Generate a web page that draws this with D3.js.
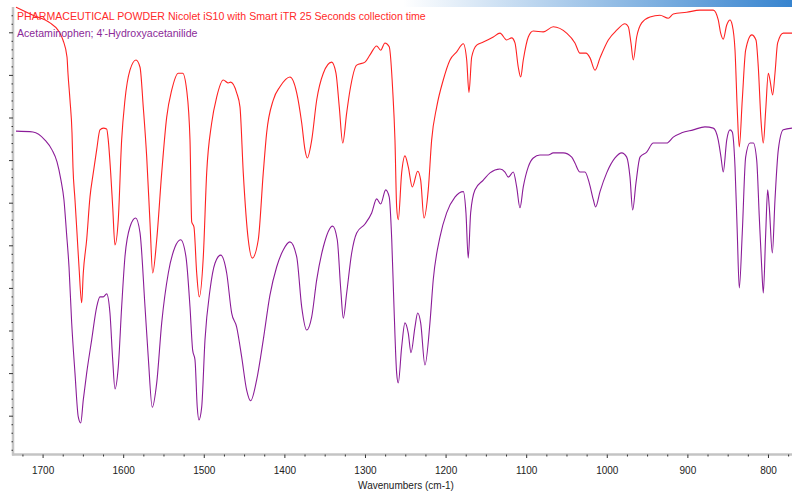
<!DOCTYPE html>
<html><head><meta charset="utf-8">
<script src="https://cdn.jsdelivr.net/npm/d3@7/dist/d3.min.js"></script>
<style>
html,body{margin:0;padding:0;background:#fff;}
svg{display:block;font-family:"Liberation Sans",Arial,sans-serif;}
</style></head>
<body>
<svg id="c" width="792" height="491"></svg>
<script>
// ---- DATA (wavenumber cm-1, relative transmittance) ----
const titleSample = "PHARMACEUTICAL POWDER Nicolet iS10 with Smart iTR 25 Seconds collection time";
const titleRef = "Acetaminophen; 4'-Hydroxyacetanilide";
const xLabel = "Wavenumbers (cm-1)";
const xMajorTicks = [1700,1600,1500,1400,1300,1200,1100,1000,900,800];
const xMinorTicks = [1725,1675,1650,1625,1575,1550,1525,1475,1450,1425,1375,1350,1325,1275,1250,1225,1175,1150,1125,1075,1050,1025,975,950,925,875,850,825,775];
const yMajorTicks = [10,20,30,40,50,60,70,80,90,100];
const yMinorTicks = [2,4,6,8,12,14,16,18,22,24,26,28,32,34,36,38,42,44,46,48,52,54,56,58,62,64,66,68,72,74,76,78,82,84,86,88,92,94,96,98,102,104,106];

const sampleWn = [1733.0,1711.9,1690.8,1680.9,1674.7,1669.7,1668.5,1666.0,1663.5,1662.3,1659.8,1657.3,1654.8,1651.5,1649.5,1645.3,1641.2,1637.1,1632.9,1628.8,1624.7,1620.5,1618.5,1615.5,1613.0,1610.2,1606.1,1601.9,1597.8,1591.6,1584.1,1579.1,1575.1,1570.8,1566.7,1563.4,1558.4,1552.2,1546.0,1539.8,1531.6,1526.2,1521.2,1517.1,1515.0,1512.2,1508.8,1505.6,1500.6,1496.4,1490.2,1484.0,1475.8,1469.6,1466.6,1459.2,1455.1,1451.0,1444.8,1439.8,1432.4,1426.2,1422.0,1413.8,1405.5,1393.1,1384.7,1378.5,1374.4,1371.6,1366.1,1359.9,1351.7,1341.3,1336.0,1331.9,1327.6,1322.7,1318.6,1310.3,1300.0,1293.8,1285.5,1280.5,1275.2,1269.9,1265.6,1262.8,1260.7,1258.7,1254.5,1250.4,1246.3,1241.3,1234.6,1230.9,1226.8,1221.5,1217.3,1211.0,1202.9,1194.5,1186.2,1178.0,1173.8,1171.0,1167.6,1161.4,1153.2,1140.8,1132.5,1124.2,1118.0,1113.9,1109.8,1106.8,1103.6,1097.4,1091.2,1078.8,1066.4,1049.8,1039.5,1033.3,1025.8,1020.8,1014.6,1008.4,998.1,987.7,977.4,973.3,970.0,967.1,962.9,956.7,946.4,934.0,923.7,917.5,900.9,884.4,867.9,861.7,858.7,855.5,851.2,847.1,844.3,840.9,838.1,835.6,831.9,827.7,820.2,814.9,812.0,808.7,805.8,802.8,799.6,797.5,794.2,791.3,788.0,781.0,770.2];
const sampleT = [105.9,104.0,102.2,100.5,98.2,94.2,90.4,84.1,76.4,68.4,60.7,52.9,44.9,36.5,43.5,51.3,61.3,67.0,72.4,77.1,77.5,77.3,74.7,67.0,59.0,50.1,56.0,74.7,84.1,91.1,93.5,91.8,82.5,70.7,55.2,43.5,51.3,67.0,80.1,86.4,90.4,90.4,86.4,74.7,55.5,54.3,43.5,37.9,47.3,67.0,78.7,84.8,88.8,88.1,88.3,85.8,82.5,67.0,51.3,47.0,51.3,67.0,76.4,84.1,87.2,89.5,85.8,78.7,72.4,70.5,74.7,84.1,90.4,93.0,90.4,82.5,74.0,81.1,86.4,92.3,93.0,94.7,96.8,95.8,97.5,96.6,86.4,74.7,59.0,56.0,67.0,71.0,68.4,63.7,67.4,65.3,56.4,63.0,74.7,82.5,88.8,93.5,95.4,97.3,93.5,85.9,94.2,97.0,97.7,98.9,99.8,98.2,98.7,97.5,91.8,89.5,93.5,98.9,100.3,100.1,101.3,99.8,97.5,95.1,95.1,94.0,91.1,94.0,98.2,100.5,102.0,101.3,97.5,93.5,98.9,102.2,103.6,104.0,103.3,104.3,104.7,105.2,105.2,102.9,99.8,98.4,101.7,102.9,101.7,95.8,81.8,73.1,84.1,95.8,99.4,98.2,91.8,79.4,74.0,81.8,90.4,88.8,85.3,90.4,97.5,99.8,99.8];

const refWn = [1733.0,1711.9,1697.0,1688.3,1682.1,1677.2,1673.5,1670.3,1667.2,1663.9,1659.8,1655.7,1652.7,1649.5,1645.3,1639.1,1632.9,1628.8,1624.7,1620.5,1616.4,1613.0,1610.2,1606.1,1601.9,1597.8,1591.6,1584.5,1579.1,1572.9,1568.9,1563.9,1558.4,1552.2,1544.0,1535.7,1528.7,1522.1,1517.1,1513.8,1510.9,1508.1,1506.0,1502.6,1498.5,1492.3,1486.1,1479.0,1471.6,1465.4,1459.2,1453.0,1446.8,1441.8,1434.4,1426.2,1417.9,1409.6,1401.4,1393.1,1384.7,1378.5,1372.3,1366.1,1359.9,1351.7,1340.1,1334.4,1330.0,1326.9,1322.7,1316.5,1310.3,1300.0,1291.7,1285.5,1280.5,1274.3,1269.9,1266.8,1264.0,1260.7,1258.7,1254.5,1250.4,1246.3,1242.9,1238.0,1234.6,1230.9,1225.6,1219.4,1215.3,1207.0,1198.7,1188.4,1178.0,1174.7,1171.9,1168.9,1163.6,1153.2,1144.9,1132.5,1126.3,1122.2,1116.0,1111.8,1107.7,1103.6,1097.4,1091.2,1082.9,1072.6,1066.4,1054.0,1043.5,1039.5,1033.3,1027.1,1021.7,1016.7,1013.8,1008.4,1000.1,989.8,981.5,975.3,971.2,967.9,963.8,958.8,950.5,942.3,934.0,925.7,917.5,907.1,892.7,878.2,867.9,861.7,858.3,855.5,851.2,847.1,844.3,840.9,838.1,835.6,831.9,827.7,822.3,818.2,814.0,810.8,807.8,805.8,802.8,800.4,798.4,794.6,791.3,787.2,781.0,770.2];
const refT = [76.8,76.6,74.7,72.4,69.6,65.3,60.7,52.9,44.9,31.8,20.0,9.7,8.3,13.7,20.0,27.8,35.5,37.9,37.9,38.6,34.1,23.1,16.3,21.4,35.5,47.3,54.3,56.4,52.9,35.5,23.8,12.0,17.7,31.8,43.5,49.6,51.3,47.3,35.5,25.4,23.1,12.0,9.0,12.0,27.8,39.5,45.8,47.7,43.5,34.1,30.8,23.8,16.0,13.5,18.4,27.8,38.3,44.9,48.9,50.8,47.3,35.5,30.1,33.2,41.9,49.6,54.5,51.3,39.5,32.9,38.8,48.2,52.9,55.0,57.6,60.9,59.7,63.0,61.3,51.3,35.5,20.0,17.7,26.1,31.8,29.4,24.8,30.8,34.1,31.8,21.9,31.8,41.9,51.9,57.6,61.3,62.6,57.6,47.0,57.6,63.0,65.3,67.0,67.9,67.2,66.0,67.2,63.7,58.8,63.7,68.4,70.5,71.2,71.2,71.7,71.7,70.7,69.3,67.2,67.2,64.6,60.7,59.0,62.6,67.0,70.5,71.7,70.7,66.0,58.3,64.6,70.7,71.9,74.0,74.0,74.0,75.4,76.4,77.1,77.8,77.5,74.7,70.7,67.2,74.7,77.1,76.6,68.4,52.9,40.0,52.9,70.7,74.0,74.0,70.0,56.7,44.9,38.8,52.9,63.0,59.0,48.2,60.7,72.4,77.1,77.5];

// ---- CHART ----
const W = 792, H = 491;
const svg = d3.select("#c");
const x = d3.scaleLinear().domain([1736.7, 770.2]).range([13, 792]);
const y = d3.scaleLinear().domain([0, 100]).range([458.3, 32.3]);
const axisY = 454.5, axisX = 13;

// top gradient bar
const defs = svg.append("defs");
const g = defs.append("linearGradient").attr("id","topbar").attr("x1","0").attr("x2","1").attr("y1","0").attr("y2","0");
g.append("stop").attr("offset","0%").attr("stop-color","#ffffff");
g.append("stop").attr("offset","100%").attr("stop-color","#3784cf");
svg.append("rect").attr("x",403).attr("y",0).attr("width",W-403).attr("height",7).attr("fill","url(#topbar)");

defs.append("clipPath").attr("id","plot").append("rect")
  .attr("x",axisX+1).attr("y",0).attr("width",W-axisX).attr("height",axisY-1);

// axis lines (gray)
svg.append("line").attr("x1",axisX).attr("x2",axisX).attr("y1",7).attr("y2",axisY+1)
  .attr("stroke","#c4c4c4").attr("stroke-width",2.5);
svg.append("line").attr("x1",axisX-1).attr("x2",W).attr("y1",axisY).attr("y2",axisY)
  .attr("stroke","#c4c4c4").attr("stroke-width",2.5);

// x axis ticks
const xa = svg.append("g").attr("transform",`translate(0,${axisY})`)
  .call(d3.axisBottom(x).tickValues(xMajorTicks).tickSize(3.5).tickPadding(9).tickFormat(d3.format("d")));
const xm = svg.append("g").attr("transform",`translate(0,${axisY})`)
  .call(d3.axisBottom(x).tickValues(xMinorTicks).tickSize(2).tickFormat(""));
[xa,xm].forEach(s=>{ s.select(".domain").remove(); s.selectAll("line").attr("stroke","#333").attr("stroke-width",1); });
xa.selectAll("text").attr("fill","#222").attr("font-size","10px").attr("font-family","'Liberation Sans',Arial,sans-serif");

// y axis ticks
const ya = svg.append("g").attr("transform",`translate(${axisX},0)`)
  .call(d3.axisLeft(y).tickValues(yMajorTicks).tickSize(4).tickFormat(""));
const ym = svg.append("g").attr("transform",`translate(${axisX},0)`)
  .call(d3.axisLeft(y).tickValues(yMinorTicks).tickSize(1.5).tickFormat(""));
[ya,ym].forEach(s=>{ s.select(".domain").remove(); s.selectAll("line").attr("stroke","#333").attr("stroke-width",1); });
ym.selectAll(".tick").filter(d=> y(d) < 7 || y(d) > axisY).remove();

// spectra
const line = d3.line().x(d=>x(d[0])).y(d=>y(d[1])).curve(d3.curveMonotoneX);
const sample = sampleWn.map((w,i)=>[w, sampleT[i]]);
const ref = refWn.map((w,i)=>[w, refT[i]]);
const plot = svg.append("g").attr("clip-path","url(#plot)");
plot.append("path").datum(ref).attr("d",line).attr("fill","none").attr("stroke","#8b1c98").attr("stroke-width",1.1);
plot.append("path").datum(sample).attr("d",line).attr("fill","none").attr("stroke","#ff2222").attr("stroke-width",1.1);

// titles
svg.append("text").attr("x",17).attr("y",20).attr("font-size","10.6px").attr("fill","#ff2a2a").text(titleSample);
svg.append("text").attr("x",17).attr("y",37).attr("font-size","10.6px").attr("fill","#8b2a98").text(titleRef);
svg.append("text").attr("x",406).attr("y",489).attr("text-anchor","middle").attr("font-size","10px").attr("fill","#222").text(xLabel);
</script>
</body></html>
